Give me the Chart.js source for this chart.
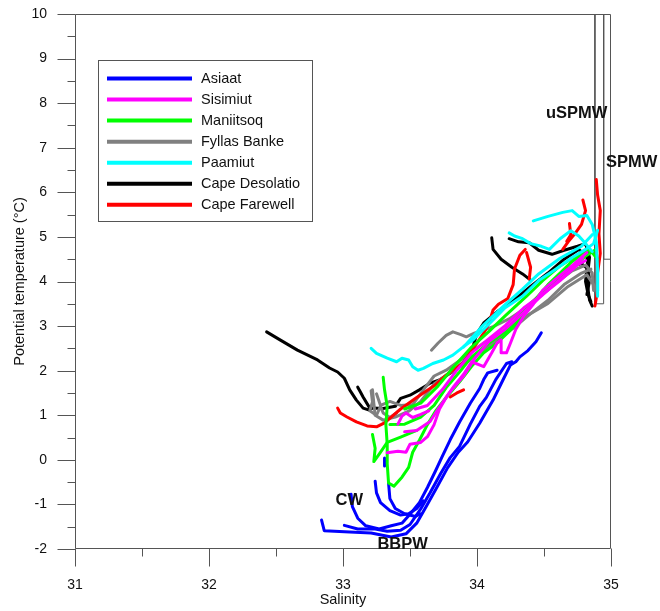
<!DOCTYPE html>
<html>
<head>
<meta charset="utf-8">
<script src="https://cdn.jsdelivr.net/npm/chart.js@4.4.1/dist/chart.umd.min.js"></script>
<style>
html,body{margin:0;padding:0;background:#fff;}
#wrap{width:660px;height:611px;position:relative;}
</style>
</head>
<body>
<div id="wrap"><canvas id="c" width="660" height="611"></canvas></div>
<script>
// ---------- data ----------
const stations = ['Asiaat','Sisimiut','Maniitsoq','Fyllas Banke','Paamiut','Cape Desolatio','Cape Farewell'];
const xTickValues = [31, 32, 33, 34, 35];
const yTickValues = [-2, -1, 0, 1, 2, 3, 4, 5, 6, 7, 8, 9, 10];

// each profile: [salinity, potential temperature]
const asiaat = [
  [[32.84,-1.35],[32.86,-1.59],[33.05,-1.62],[33.21,-1.64],[33.36,-1.73],[33.47,-1.66],[33.55,-1.42],[33.62,-1.05],[33.70,-0.62],[33.78,-0.18],[33.86,0.17],[33.93,0.40],[34.02,0.82],[34.12,1.34],[34.20,1.83],[34.25,2.13],[34.29,2.20],[34.32,2.31],[34.38,2.45],[34.44,2.65],[34.48,2.85]],
  [[33.06,-0.77],[33.07,-1.05],[33.11,-1.31],[33.17,-1.48],[33.27,-1.55],[33.36,-1.48],[33.44,-1.42],[33.50,-1.22],[33.57,-0.96],[33.63,-0.62],[33.69,-0.25],[33.74,0.07],[33.80,0.45],[33.87,0.85],[33.95,1.27],[34.02,1.60],[34.05,1.80],[34.08,1.95],[34.15,2.01]],
  [[33.01,-1.47],[33.11,-1.55],[33.24,-1.55],[33.33,-1.60],[33.43,-1.58],[33.50,-1.45],[33.58,-1.10],[33.65,-0.74],[33.73,-0.30],[33.80,0.05],[33.87,0.30],[33.95,0.80],[34.02,1.20],[34.07,1.40],[34.14,1.80],[34.22,2.16],[34.26,2.20]],
  [[33.24,-0.48],[33.25,-0.74],[33.28,-0.96],[33.35,-1.14],[33.43,-1.24],[33.49,-1.21],[33.55,-1.09],[33.60,-0.92]],
  [[33.34,-0.52],[33.35,-0.87],[33.39,-1.09],[33.46,-1.21],[33.54,-1.27],[33.58,-1.21]],
  [[33.31,0.04],[33.31,-0.14]]
];
const sisimiut = [
  [[33.33,0.16],[33.41,0.19],[33.47,0.17],[33.50,0.35],[33.58,0.39],[33.63,0.52],[33.68,0.79],[33.72,1.14],[33.77,1.40],[33.83,1.66],[33.90,1.92],[33.96,2.20],[34.05,2.09],[34.11,2.40],[34.15,2.62],[34.18,2.69],[34.18,2.40],[34.22,2.40],[34.25,2.62],[34.29,2.93],[34.35,3.23],[34.42,3.49],[34.49,3.80],[34.59,4.06],[34.68,4.28],[34.78,4.54],[34.82,4.65]],
  [[33.46,0.63],[33.55,0.66],[33.65,0.86],[33.71,1.14],[33.80,1.53],[33.90,1.88],[33.99,2.30],[34.09,2.66],[34.21,2.93],[34.34,3.28],[34.46,3.62],[34.59,3.97],[34.71,4.28],[34.79,4.54]],
  [[33.54,1.14],[33.63,1.22],[33.74,1.57],[33.85,2.01],[33.96,2.40],[34.09,2.72],[34.21,3.01],[34.35,3.41],[34.49,3.71],[34.62,4.02],[34.75,4.37],[34.81,4.47]],
  [[33.41,0.80],[33.44,0.98],[33.47,1.05],[33.52,0.95],[33.58,1.02],[33.64,1.10]]
];
const maniitsoq = [
  [[33.30,1.85],[33.31,1.57],[33.33,1.20],[33.32,0.79],[33.33,0.35],[33.33,-0.09],[33.34,-0.52],[33.38,-0.59],[33.44,-0.39],[33.49,-0.17],[33.52,0.17],[33.57,0.44],[33.63,0.79],[33.69,1.09],[33.77,1.40],[33.87,1.75],[33.96,2.10],[34.05,2.40],[34.15,2.62],[34.24,2.88],[34.34,3.23],[34.43,3.58],[34.53,3.93],[34.62,4.19],[34.71,4.45],[34.84,4.72]],
  [[33.22,0.57],[33.24,0.26],[33.23,-0.04],[33.27,0.13],[33.33,0.39],[33.43,0.51],[33.55,0.66]],
  [[33.35,0.79],[33.46,0.80],[33.58,0.96],[33.68,1.22],[33.77,1.62],[33.87,1.97],[33.96,2.31],[34.09,2.62],[34.21,2.88],[34.34,3.32],[34.46,3.67],[34.59,4.02],[34.71,4.32],[34.82,4.59],[34.89,4.72]],
  [[33.46,1.14],[33.58,1.27],[33.71,1.66],[33.83,2.10],[33.96,2.53],[34.09,2.88],[34.21,3.23],[34.37,3.67],[34.49,4.02],[34.62,4.35],[34.71,4.52],[34.84,4.72],[34.90,4.50]]
];
const fyllasBanke = [
  [[33.66,2.46],[33.71,2.62],[33.77,2.79],[33.82,2.87],[33.88,2.81],[33.92,2.76],[33.98,2.84],[34.05,2.91],[34.12,2.99],[34.24,3.16],[34.34,3.36],[34.46,3.67],[34.59,3.97],[34.71,4.24],[34.81,4.37],[34.86,4.19],[34.87,3.80]],
  [[33.22,1.57],[33.23,1.27],[33.24,1.00],[33.30,0.89],[33.39,0.96],[33.49,1.09],[33.58,1.31],[33.68,1.70],[33.77,1.90],[33.90,2.14],[34.02,2.40],[34.15,2.69],[34.27,2.95],[34.40,3.28],[34.53,3.58],[34.65,3.93],[34.78,4.19],[34.85,4.28]],
  [[33.25,1.48],[33.28,1.22],[33.35,1.31],[33.43,1.22],[33.52,1.24],[33.60,1.57],[33.68,1.88],[33.77,2.01],[33.90,2.29],[34.05,2.62],[34.21,2.90],[34.37,3.23],[34.53,3.51],[34.68,3.89],[34.82,4.15],[34.89,3.84]],
  [[33.21,1.55],[33.22,1.30],[33.20,1.10],[33.25,1.00],[33.28,1.20],[33.30,1.05],[33.35,0.95],[33.40,1.05]]
];
const paamiut = [
  [[33.21,2.50],[33.25,2.39],[33.33,2.28],[33.40,2.20],[33.44,2.28],[33.49,2.24],[33.52,2.09],[33.56,2.01],[33.60,2.05],[33.67,2.16],[33.75,2.24],[33.82,2.35],[33.90,2.54],[33.97,2.69],[34.02,2.84],[34.12,3.14],[34.21,3.41],[34.34,3.67],[34.46,4.02],[34.59,4.28],[34.71,4.54],[34.81,4.72],[34.87,4.85],[34.90,5.15]],
  [[34.42,5.36],[34.53,5.46],[34.64,5.55],[34.71,5.59],[34.76,5.46],[34.82,5.48],[34.86,5.28],[34.89,4.89],[34.90,4.28],[34.90,3.67]],
  [[34.24,5.09],[34.28,5.02],[34.34,4.96],[34.40,4.85],[34.48,4.79],[34.54,4.72],[34.62,4.96],[34.70,5.14],[34.76,5.02],[34.81,4.85],[34.86,4.67]],
  [[33.90,2.53],[34.05,3.03],[34.21,3.48],[34.34,3.83],[34.46,4.17],[34.62,4.52],[34.78,4.79],[34.86,5.05]]
];
const capeDesolation = [
  [[32.43,2.87],[32.53,2.69],[32.66,2.46],[32.81,2.24],[32.90,2.06],[32.96,1.97],[33.01,1.83],[33.05,1.57],[33.10,1.34],[33.15,1.16],[33.19,1.12],[33.22,1.16],[33.30,1.15],[33.39,1.20],[33.43,1.38],[33.50,1.45],[33.57,1.57],[33.65,1.72],[33.72,1.79],[33.82,1.98],[33.90,2.20],[33.97,2.54],[34.00,2.84],[34.05,3.07],[34.15,3.32],[34.27,3.57],[34.40,3.89],[34.53,4.19],[34.65,4.50],[34.76,4.72],[34.82,4.54],[34.84,4.02],[34.82,3.71]],
  [[33.11,1.63],[33.13,1.52],[33.15,1.41],[33.20,1.16]],
  [[34.11,4.98],[34.12,4.72],[34.18,4.50],[34.26,4.32],[34.34,4.17],[34.40,4.03]],
  [[34.24,4.96],[34.31,4.89],[34.39,4.87],[34.46,4.70],[34.56,4.61],[34.65,4.70],[34.75,4.79],[34.81,4.85],[34.84,4.54],[34.82,4.02],[34.84,3.58],[34.86,3.45]],
  [[34.60,4.10],[34.66,4.25],[34.72,4.35],[34.78,4.40],[34.82,4.30],[34.81,4.00],[34.83,3.70],[34.85,3.55]]
];
const capeFarewell = [
  [[32.96,1.16],[32.98,1.05],[33.03,0.96],[33.10,0.85],[33.18,0.76],[33.25,0.74],[33.31,0.83],[33.43,1.14],[33.55,1.40],[33.68,1.66],[33.77,1.90],[33.90,2.18],[33.99,2.58],[34.05,2.84],[34.09,3.07],[34.12,3.36],[34.16,3.49],[34.23,3.62],[34.27,3.93],[34.28,4.28],[34.32,4.59],[34.36,4.72]],
  [[34.37,4.65],[34.40,4.32],[34.39,4.06]],
  [[34.89,6.29],[34.90,5.94],[34.92,5.59],[34.91,5.07],[34.92,4.63],[34.90,4.19],[34.90,3.80],[34.88,3.45]],
  [[34.79,5.83],[34.81,5.59],[34.78,5.28],[34.73,5.07],[34.68,4.89],[34.64,4.72]],
  [[34.69,5.30],[34.70,5.05],[34.67,4.90]],
  [[33.80,1.41],[33.85,1.50],[33.90,1.57]]
];
const profilesByStation = [asiaat, sisimiut, maniitsoq, fyllasBanke, paamiut, capeDesolation, capeFarewell];

// water-mass boxes (salinity, temperature corners)
const uSPMWBox = [[34.88,10],[34.88,3.5],[34.945,3.5],[34.945,10]];
const SPMWBox = [[34.945,10],[34.945,4.5],[35,4.5]];
const waterMassNames = ['uSPMW','SPMW','CW','BBPW'];
const waterMassSal = [34.515, 34.963, 32.944, 33.257];
const waterMassTemp = [7.78, 6.66, -0.92, -1.90];

// ---------- styles ----------
const stationColors = ['#0000ff','#ff00ff','#00ff00','#808080','#00ffff','#000000','#ff0000'];
const stationDrawOrder = [6, 2, 3, 5, 1, 7, 4]; // lower = on top
const FONT = "'Liberation Sans', Arial, sans-serif";
const AXIS = '#555555';

const datasets = [];
profilesByStation.forEach((profiles, si) => {
  profiles.forEach((p) => {
    datasets.push({
      label: stations[si],
      data: p.map(([s, t]) => ({x: s, y: t})),
      showLine: true,
      borderColor: stationColors[si],
      backgroundColor: stationColors[si],
      borderWidth: 3,
      borderJoinStyle: 'round',
      borderCapStyle: 'round',
      pointRadius: 0,
      tension: 0,
      order: stationDrawOrder[si]
    });
  });
});
[uSPMWBox, SPMWBox].forEach(b => {
  datasets.push({
    label: 'box',
    data: b.map(([s, t]) => ({x: s, y: t})),
    showLine: true, borderColor: AXIS, borderWidth: 1, pointRadius: 0, order: 20, clip: false
  });
});

const overlay = {
  id: 'overlay',
  afterDraw(chart) {
    const {ctx, chartArea: a, scales: {x, y}} = chart;
    ctx.save();
    ctx.strokeStyle = AXIS;
    ctx.lineWidth = 1;
    const L = Math.round(a.left) + 0.5, R = Math.round(a.right) - 0.5;
    const T = Math.round(a.top) + 0.5, B = Math.round(a.bottom) - 0.5;
    ctx.beginPath();
    ctx.moveTo(L, T); ctx.lineTo(R, T); ctx.lineTo(R, B); ctx.lineTo(L, B); ctx.closePath();
    ctx.stroke();
    // y ticks (major + minor)
    ctx.beginPath();
    for (let i = 0; i < yTickValues.length; i++) {
      const v = yTickValues[i];
      const py = Math.round(y.getPixelForValue(v)) + 0.5;
      ctx.moveTo(L - 18, py); ctx.lineTo(L, py);
      if (i < yTickValues.length - 1) {
        const pm = Math.round(y.getPixelForValue((v + yTickValues[i + 1]) / 2)) + 0.5;
        ctx.moveTo(L - 8, pm); ctx.lineTo(L, pm);
      }
    }
    for (let i = 0; i < xTickValues.length; i++) {
      const v = xTickValues[i];
      const px = Math.round(x.getPixelForValue(v)) + 0.5;
      ctx.moveTo(px, B); ctx.lineTo(px, B + 18);
      if (i < xTickValues.length - 1) {
        const pm = Math.round(x.getPixelForValue((v + xTickValues[i + 1]) / 2)) + 0.5;
        ctx.moveTo(pm, B); ctx.lineTo(pm, B + 8);
      }
    }
    ctx.stroke();

    // legend
    const lx = 98.5, ly = 60.5, lw = 214, lh = 161;
    ctx.strokeStyle = AXIS;
    ctx.strokeRect(lx, ly, lw, lh);
    ctx.font = '14.5px ' + FONT;
    ctx.textBaseline = 'middle';
    ctx.textAlign = 'left';
    stations.forEach((name, i) => {
      const ry = 78.5 + i * 21.05;
      ctx.strokeStyle = stationColors[i];
      ctx.lineWidth = 4;
      ctx.beginPath(); ctx.moveTo(107, ry); ctx.lineTo(192, ry); ctx.stroke();
      ctx.fillStyle = '#111';
      ctx.fillText(name, 201, ry + 0.5);
    });

    // water-mass labels
    ctx.font = 'bold 16.5px ' + FONT;
    ctx.fillStyle = '#111';
    waterMassNames.forEach((n, i) => {
      ctx.fillText(n, x.getPixelForValue(waterMassSal[i]), y.getPixelForValue(waterMassTemp[i]));
    });
    ctx.restore();
  }
};

new Chart(document.getElementById('c'), {
  type: 'scatter',
  data: {datasets},
  options: {
    responsive: false,
    animation: false,
    devicePixelRatio: 1,
    layout: {padding: {left: 0, right: 49, top: 14, bottom: 0}},
    plugins: {legend: {display: false}, tooltip: {enabled: false}},
    scales: {
      x: {
        type: 'linear', min: 31, max: 35,
        afterFit(s) { s.height = 62; s.paddingLeft = 0; s.paddingRight = 0; },
        grid: {display: false, drawTicks: false},
        border: {display: false},
        ticks: {
          stepSize: 1, padding: 28, color: '#111', maxRotation: 0,
          font: {family: FONT, size: 14},
          callback: (v) => xTickValues.includes(v) ? String(v) : ''
        },
        title: {display: true, text: 'Salinity', color: '#111', font: {family: FONT, size: 14.5}, padding: {top: 0, bottom: 2}}
      },
      y: {
        type: 'linear', min: -2, max: 10,
        afterFit(s) { s.width = 75; s.paddingTop = 0; s.paddingBottom = 0; },
        grid: {display: false, drawTicks: false},
        border: {display: false},
        ticks: {
          stepSize: 1, padding: 28, color: '#111',
          font: {family: FONT, size: 14},
          callback: (v) => yTickValues.includes(v) ? String(v) : ''
        },
        title: {display: true, text: 'Potential temperature (°C)', color: '#111', font: {family: FONT, size: 14.5}, padding: {top: 11, bottom: 0}}
      }
    }
  },
  plugins: [overlay]
});
</script>
</body>
</html>
